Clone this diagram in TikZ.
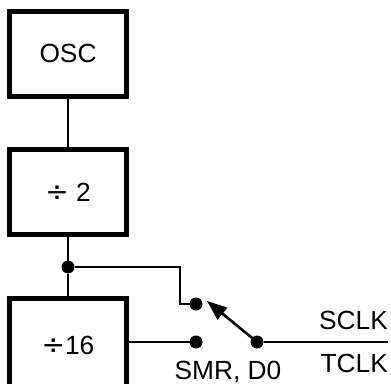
\documentclass[tikz,border=0pt]{standalone}
\usepackage{fontspec}
\setmainfont{Liberation Sans}
\newfontfamily\dvfont{DejaVu Sans}
\newcommand{\divsign}{{\dvfont\fontsize{28}{30}\selectfont ÷}}
\usetikzlibrary{arrows.meta}
\begin{document}
\begin{tikzpicture}[x=1pt,y=-1pt,
  blockbox/.style={draw=black,line width=5pt,fill=white,minimum width=117pt,minimum height=85pt,inner sep=0pt,outer sep=0pt,font=\fontsize{26.3}{30}\selectfont},
  wire/.style={draw=black,line width=2.6pt},
  dotnode/.style={circle,fill=black,minimum size=13pt,inner sep=0pt,outer sep=0pt},
  lbl/.style={inner sep=0pt,font=\fontsize{26.3}{30}\selectfont}]
\clip (0,0) rectangle (391,383);
\fill[white] (0,0) rectangle (391,383);
\coordinate (c1) at (180,267);
\coordinate (c2) at (180,304);
\coordinate (tip) at (207,301);
\coordinate (out) at (388,342);
\node[dotnode] (j) at (68,267) {};
\node[dotnode] (p1) at (196,304) {};
\node[dotnode] (p2) at (196,342) {};
\node[dotnode] (p3) at (257,342) {};
\draw[wire] (68,98) -- (68,147);
\draw[wire] (68,237) -- (j) -- (68,296);
\draw[wire] (j) -- (c1) -- (c2) -- (p1);
\draw[wire] (129,342) -- (p2);
\draw[wire] (p3) -- (out);
\draw[wire,-{Triangle[length=20pt,width=15pt]}] (p3) -- (tip);
\node[blockbox] (osc) at (68,53.5) {OSC};
\node[blockbox] (d2) at (68,192) {\divsign{} 2};
\node[blockbox,minimum height=93pt] (d16) at (68,345) {\divsign{}16};
\node[lbl,anchor=base east] (sclk) at (388,329) {SCLK};
\node[lbl,anchor=base east] (tclk) at (388,372) {TCLK};
\node[lbl,anchor=base] (smr) at (228,379) {SMR, D0};
\end{tikzpicture}
\end{document}
